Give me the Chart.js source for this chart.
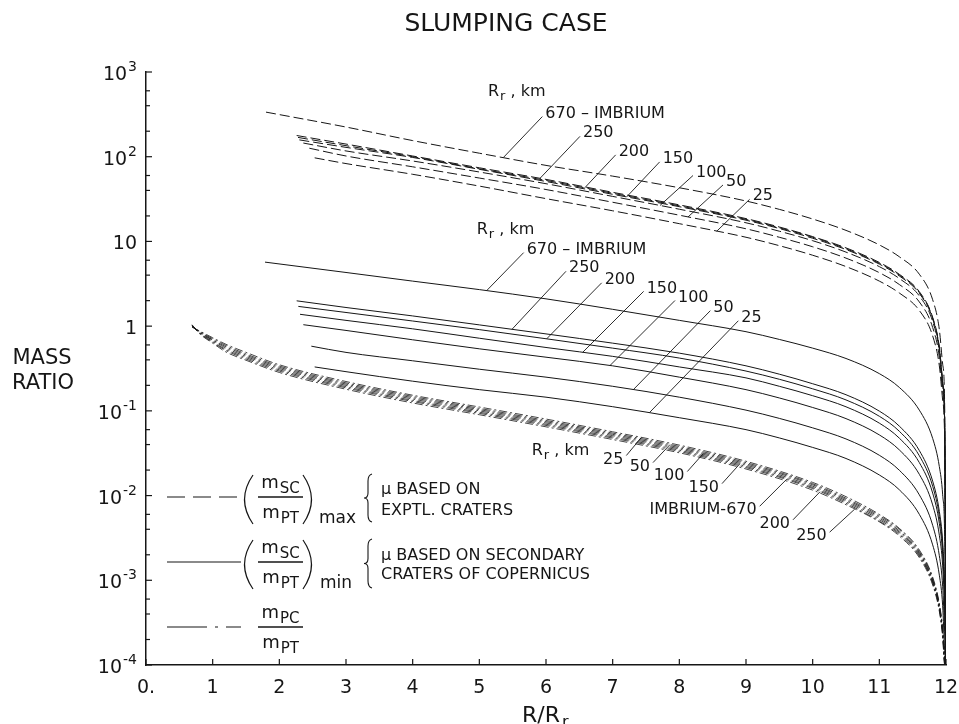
<!DOCTYPE html>
<html>
<head>
<meta charset="utf-8">
<title>Slumping case</title>
<script src="https://cdn.jsdelivr.net/npm/chart.js@4.4.1/dist/chart.umd.min.js"></script>
<style>
  html, body { margin: 0; padding: 0; background: #fff; }
  #wrap { width: 959px; height: 724px; }
</style>
</head>
<body>
<div id="wrap"><canvas id="myChart" width="959" height="724"></canvas></div>
<script>
// crater radius R_r (km) of each curve, same order in every family
const craterRadii = ['25', '50', '100', '150', '200', '250', '670'];

// R/R_r grid used by the two secondary-crater families
const gridX = [3, 4, 5, 6, 7, 8, 9, 9.5, 10, 10.5, 11, 11.3, 11.6, 11.8, 11.9, 11.95, 11.98, 12];

// (m_SC/m_PT)max  (dashed)
const maxStartX = [2.53, 2.45, 2.36, 2.30, 2.28, 2.26, 1.8];
const maxStartY = [97, 126, 145, 158, 169, 178, 336];
const max25  = [83, 62, 45, 32, 23, 16.2, 11.2, 8.91, 6.87, 5.05, 3.40, 2.46, 1.53, 0.766, 0.34, 0.133, 0.0432, 0.0001];
const max50  = [102, 76, 56, 41, 29, 20.4, 14.1, 11.2, 8.65, 6.35, 4.28, 3.10, 1.93, 0.964, 0.429, 0.168, 0.0543, 0.0001];
const max100 = [117, 89, 66, 48, 34, 24, 16.6, 13.2, 10.2, 7.48, 5.04, 3.65, 2.27, 1.135, 0.505, 0.197, 0.064, 0.0001];
const max150 = [129, 98, 71, 51, 36, 25.7, 17.8, 14.2, 10.9, 8.02, 5.40, 3.91, 2.43, 1.22, 0.541, 0.211, 0.0686, 0.0001];
const max200 = [135, 100, 72, 52.5, 37, 26.3, 18.2, 14.5, 11.2, 8.20, 5.52, 4.0, 2.49, 1.245, 0.553, 0.216, 0.070, 0.0001];
const max250 = [141, 102, 74, 54, 38, 27, 18.6, 14.8, 11.4, 8.39, 5.65, 4.09, 2.55, 1.27, 0.565, 0.221, 0.0716, 0.0001];
const max670 = [224, 155, 110, 79, 59, 43, 30, 23.9, 18.4, 13.5, 9.1, 6.59, 4.1, 2.05, 0.912, 0.356, 0.116, 0.0001];

// (m_SC/m_PT)min  (solid)
const minStartX = [2.53, 2.48, 2.36, 2.31, 2.285, 2.26, 1.785];
const minStartY = [0.33, 0.58, 1.04, 1.38, 1.71, 1.99, 5.7];
const min25  = [0.29, 0.224, 0.178, 0.145, 0.112, 0.083, 0.06, 0.0479, 0.037, 0.0274, 0.0175, 0.0117, 0.006, 0.00262, 0.00115, 0.0005, 0.000148, 0.0001];
const min50  = [0.49, 0.39, 0.31, 0.25, 0.195, 0.145, 0.102, 0.0815, 0.063, 0.0466, 0.0299, 0.0199, 0.0102, 0.00446, 0.00195, 0.00085, 0.00025, 0.0001];
const min100 = [0.89, 0.69, 0.54, 0.43, 0.34, 0.25, 0.178, 0.142, 0.1096, 0.081, 0.052, 0.0346, 0.0178, 0.00776, 0.0034, 0.00148, 0.00044, 0.0001];
const min150 = [1.17, 0.93, 0.72, 0.56, 0.44, 0.33, 0.245, 0.195, 0.151, 0.1117, 0.0716, 0.0476, 0.0245, 0.0107, 0.00469, 0.00204, 0.0006, 0.0001];
const min200 = [1.45, 1.15, 0.91, 0.71, 0.55, 0.42, 0.295, 0.236, 0.182, 0.1346, 0.0863, 0.0574, 0.0295, 0.0129, 0.00565, 0.00246, 0.00073, 0.0001];
const min250 = [1.66, 1.32, 1.035, 0.81, 0.63, 0.48, 0.34, 0.271, 0.209, 0.155, 0.0993, 0.066, 0.034, 0.0148, 0.0065, 0.00283, 0.00084, 0.0001];
const min670 = [4.3, 3.4, 2.7, 2.1, 1.58, 1.17, 0.86, 0.697, 0.55, 0.415, 0.275, 0.189, 0.102, 0.0473, 0.022, 0.0102, 0.0033, 0.0001];

// m_PC/m_PT  (dash-dot)
const pcX = [0.69, 0.8, 1.0, 1.2, 1.5, 2, 3, 4, 5, 6, 7, 8, 9, 10, 10.5, 11, 11.3, 11.6, 11.8, 11.9, 11.95, 11.98, 12];
const pc25  = [0.97, 0.88, 0.73, 0.61, 0.49, 0.35, 0.222, 0.153, 0.111, 0.080, 0.0566, 0.0394, 0.0254, 0.0143, 0.0097, 0.006, 0.0041, 0.00228, 0.00109, 0.00053, 0.000266, 0.00012, 0.0001];
const pc50  = [0.99, 0.87, 0.71, 0.59, 0.47, 0.338, 0.214, 0.148, 0.107, 0.077, 0.0546, 0.038, 0.0245, 0.0138, 0.0093, 0.0058, 0.004, 0.00219, 0.00105, 0.00051, 0.000257, 0.000118, 0.0001];
const pc100 = [1.0, 0.86, 0.69, 0.57, 0.455, 0.327, 0.207, 0.143, 0.1035, 0.0745, 0.0528, 0.0367, 0.0237, 0.0134, 0.009, 0.0056, 0.00383, 0.00212, 0.00101, 0.0005, 0.000248, 0.000114, 0.0001];
const pc150 = [1.0, 0.85, 0.68, 0.55, 0.44, 0.316, 0.20, 0.138, 0.100, 0.072, 0.051, 0.0355, 0.0229, 0.0129, 0.0087, 0.0054, 0.0037, 0.00205, 0.00098, 0.00048, 0.00024, 0.00011, 0.0001];
const pc200 = [1.03, 0.83, 0.645, 0.515, 0.41, 0.295, 0.187, 0.129, 0.0935, 0.0673, 0.0477, 0.0332, 0.0214, 0.0121, 0.0081, 0.005, 0.00346, 0.00192, 0.00092, 0.00045, 0.000224, 0.000103, 0.0001];
const pc250 = [1.04, 0.82, 0.63, 0.495, 0.396, 0.284, 0.18, 0.124, 0.09, 0.0648, 0.0459, 0.032, 0.0206, 0.0116, 0.0078, 0.0049, 0.00333, 0.00185, 0.00088, 0.00043, 0.000216, 0.000101, 0.0001];
const pc670 = [1.02, 0.84, 0.66, 0.53, 0.425, 0.305, 0.193, 0.133, 0.0965, 0.0695, 0.0492, 0.0343, 0.0221, 0.01245, 0.0084, 0.0052, 0.00357, 0.00198, 0.00095, 0.00046, 0.000232, 0.000106, 0.0001];

// axis ticks
const xTickValues = [0, 1, 2, 3, 4, 5, 6, 7, 8, 9, 10, 11, 12];
const xTickLabels = ['0.', '1', '2', '3', '4', '5', '6', '7', '8', '9', '10', '11', '12'];
const yTickValues = [1e-4, 1e-3, 1e-2, 1e-1, 1, 10, 100, 1000];
const yTickLabels = [['10', '-4'], ['10', '-3'], ['10', '-2'], ['10', '-1'], ['1', ''], ['10', ''], ['10', '2'], ['10', '3']];
const yMinorSteps = [2, 4, 6];

const maxSeries = [max25, max50, max100, max150, max200, max250, max670];
const minSeries = [min25, min50, min100, min150, min200, min250, min670];
const pcSeries  = [pc25, pc50, pc100, pc150, pc200, pc250, pc670];

const ink = '#161616';
const fam = '"DejaVu Sans", sans-serif';

function pointsFrom(xs, ys, x0, y0) {
  const pts = [];
  if (x0 !== undefined) pts.push({ x: x0, y: y0 });
  xs.forEach((x, i) => pts.push({ x: x, y: ys[i] }));
  return pts;
}

const datasets = [];
maxSeries.forEach((ys, i) => datasets.push({
  label: 'max ' + craterRadii[i],
  data: pointsFrom(gridX, ys, maxStartX[i], maxStartY[i]),
  borderDash: [10, 4],
  borderWidth: 1
}));
minSeries.forEach((ys, i) => datasets.push({
  label: 'min ' + craterRadii[i],
  data: pointsFrom(gridX, ys, minStartX[i], minStartY[i]),
  borderDash: [],
  borderWidth: 1
}));
pcSeries.forEach((ys, i) => datasets.push({
  label: 'pc ' + craterRadii[i],
  data: pointsFrom(pcX, ys),
  borderDash: [8, 3, 2, 3],
  borderWidth: 0.8
}));
datasets.forEach(d => {
  d.borderColor = ink;
  d.pointRadius = 0;
  d.fill = false;
  d.cubicInterpolationMode = 'monotone';
});

// leader-line labels: curve index, where the leader touches it, leader offset in px
const maxNotes = [
  { i: 6, x: 5.36, dx: 39, dy: -41, text: '670 – IMBRIUM' },
  { i: 5, x: 5.91, dx: 40, dy: -42 },
  { i: 4, x: 6.58, dx: 31, dy: -33 },
  { i: 3, x: 7.21, dx: 33, dy: -35 },
  { i: 2, x: 7.71, dx: 33, dy: -30 },
  { i: 1, x: 8.13, dx: 35, dy: -32 },
  { i: 0, x: 8.56, dx: 33, dy: -32 }
];
const minNotes = [
  { i: 6, x: 5.11, dx: 37, dy: -38, text: '670 – IMBRIUM' },
  { i: 5, x: 5.49, dx: 54, dy: -58 },
  { i: 4, x: 6.01, dx: 55, dy: -56 },
  { i: 3, x: 6.55, dx: 61, dy: -61 },
  { i: 2, x: 6.96, dx: 65, dy: -65 },
  { i: 1, x: 7.31, dx: 77, dy: -79 },
  { i: 0, x: 7.55, dx: 89, dy: -92 }
];
const pcNotes = [
  { i: 0, x: 7.43, dx: -15, dy: 18 },
  { i: 1, x: 7.86, dx: -17, dy: 18 },
  { i: 2, x: 8.36, dx: -16, dy: 18 },
  { i: 3, x: 8.91, dx: -18, dy: 20 },
  { i: 6, x: 9.61, dx: -27, dy: 27, text: 'IMBRIUM-670' },
  { i: 4, x: 10.11, dx: -27, dy: 28 },
  { i: 5, x: 10.63, dx: -25, dy: 23 }
];

function yOnCurve(chart, idx, xv) {
  const pts = chart.getDatasetMeta(idx).data;
  const px = chart.scales.x.getPixelForValue(xv);
  for (let k = 1; k < pts.length; k++) {
    if (pts[k].x >= px) {
      const a = pts[k - 1], b = pts[k];
      const t = (px - a.x) / (b.x - a.x);
      return { x: px, y: a.y + t * (b.y - a.y) };
    }
  }
  return { x: px, y: pts[pts.length - 1].y };
}

function line(ctx, x1, y1, x2, y2) {
  ctx.beginPath();
  ctx.moveTo(x1, y1);
  ctx.lineTo(x2, y2);
  ctx.stroke();
}

function drawRr(ctx, x, y, tail) {
  ctx.textAlign = 'left';
  ctx.textBaseline = 'alphabetic';
  ctx.font = '16px ' + fam;
  ctx.fillText('R', x, y);
  let w = ctx.measureText('R').width;
  ctx.font = '13px ' + fam;
  ctx.fillText('r', x + w + 1, y + 4);
  w += ctx.measureText('r').width + 1;
  ctx.font = '16px ' + fam;
  ctx.fillText(tail, x + w, y);
}

function drawMSub(ctx, cx, baseM, baseS, sub) {
  ctx.font = '18px ' + fam;
  const wm = ctx.measureText('m').width;
  ctx.font = '15px ' + fam;
  const ws = ctx.measureText(sub).width;
  const x0 = cx - (wm + ws + 1) / 2;
  ctx.textAlign = 'left';
  ctx.font = '18px ' + fam;
  ctx.fillText('m', x0, baseM);
  ctx.font = '15px ' + fam;
  ctx.fillText(sub, x0 + wm + 1, baseS);
}

function drawFraction(ctx, bar, numSub, denSub) {
  ctx.lineWidth = 1.3;
  line(ctx, 258, bar, 303, bar);
  drawMSub(ctx, 280.5, bar - 9, bar - 4, numSub);
  drawMSub(ctx, 280.5, bar + 21, bar + 26, denSub);
}

function drawParens(ctx, bar) {
  const top = bar - 22, bot = bar + 27, mid = (top + bot) / 2;
  ctx.lineWidth = 1.2;
  ctx.beginPath();
  ctx.moveTo(253, top);
  ctx.quadraticCurveTo(236, mid, 253, bot);
  ctx.stroke();
  ctx.beginPath();
  ctx.moveTo(303, top);
  ctx.quadraticCurveTo(320, mid, 303, bot);
  ctx.stroke();
}

function drawBrace(ctx, x, top, bot) {
  const mid = (top + bot) / 2;
  ctx.lineWidth = 1.1;
  ctx.beginPath();
  ctx.moveTo(x + 4, top);
  ctx.quadraticCurveTo(x, top + 1, x, top + 7);
  ctx.lineTo(x, mid - 5);
  ctx.quadraticCurveTo(x, mid, x - 4, mid);
  ctx.quadraticCurveTo(x, mid, x, mid + 5);
  ctx.lineTo(x, bot - 7);
  ctx.quadraticCurveTo(x, bot - 1, x + 4, bot);
  ctx.stroke();
}

function drawNotes(ctx, chart, notes, offset, below) {
  ctx.lineWidth = 0.9;
  ctx.font = '16px ' + fam;
  ctx.textBaseline = 'middle';
  notes.forEach(n => {
    const p = yOnCurve(chart, offset + n.i, n.x);
    const ex = p.x + n.dx, ey = p.y + n.dy;
    line(ctx, p.x, p.y, ex, ey);
    const txt = n.text || craterRadii[n.i];
    if (below) {
      ctx.textAlign = 'right';
      ctx.fillText(txt, ex - 3, ey + 4);
    } else {
      ctx.textAlign = 'left';
      ctx.fillText(txt, ex + 3, ey - 3);
    }
  });
}

const paperPlugin = {
  id: 'paper',
  beforeDraw(chart) {
    const ctx = chart.ctx;
    ctx.save();
    ctx.fillStyle = '#fff';
    ctx.fillRect(0, 0, chart.width, chart.height);
    ctx.restore();
  },
  afterDraw(chart) {
    const ctx = chart.ctx, xs = chart.scales.x, ys = chart.scales.y, area = chart.chartArea;
    ctx.save();
    ctx.fillStyle = ink;
    ctx.strokeStyle = ink;
    ctx.setLineDash([]);

    // inward ticks
    ctx.lineWidth = 1.2;
    xTickValues.forEach(v => {
      const px = xs.getPixelForValue(v);
      line(ctx, px, area.bottom, px, area.bottom - 6);
    });
    yTickValues.forEach((v, k) => {
      const py = ys.getPixelForValue(v);
      line(ctx, area.left, py, area.left + 6, py);
      if (k < yTickValues.length - 1) {
        yMinorSteps.forEach(m => {
          const pm = ys.getPixelForValue(v * m);
          line(ctx, area.left, pm, area.left + 4, pm);
        });
      }
    });

    // tick labels
    ctx.textBaseline = 'middle';
    ctx.textAlign = 'center';
    ctx.font = '19px ' + fam;
    xTickValues.forEach((v, k) => {
      ctx.fillText(xTickLabels[k], xs.getPixelForValue(v), area.bottom + 23);
    });
    ctx.textBaseline = 'alphabetic';
    ctx.textAlign = 'left';
    yTickValues.forEach((v, k) => {
      const py = ys.getPixelForValue(v);
      const main = yTickLabels[k][0], sup = yTickLabels[k][1];
      ctx.font = '14px ' + fam;
      const ws = sup ? ctx.measureText(sup).width + 1 : 0;
      ctx.font = '19px ' + fam;
      const wm = ctx.measureText(main).width;
      const right = area.left - 9;
      ctx.fillText(main, right - ws - wm, py + 8);
      if (sup) {
        ctx.font = '14px ' + fam;
        ctx.fillText(sup, right - ws + 1, py - 1);
      }
    });

    // titles
    ctx.textAlign = 'center';
    ctx.font = '25px ' + fam;
    ctx.fillText('SLUMPING CASE', 506, 31);
    ctx.font = '21px ' + fam;
    ctx.fillText('MASS', 42, 364);
    ctx.fillText('RATIO', 43, 389);
    ctx.textAlign = 'left';
    ctx.font = '22px ' + fam;
    const xTitleX = 522;
    ctx.fillText('R/R', xTitleX, 722);
    const wR = ctx.measureText('R/R').width;
    ctx.font = '16px ' + fam;
    ctx.fillText('r', xTitleX + wR + 2, 727);

    // leader labels
    drawNotes(ctx, chart, maxNotes, 0, false);
    drawNotes(ctx, chart, minNotes, 7, false);
    drawNotes(ctx, chart, pcNotes, 14, true);
    drawRr(ctx, xs.getPixelForValue(5.13), ys.getPixelForValue(614) + 6, ' , km');
    drawRr(ctx, xs.getPixelForValue(4.96), ys.getPixelForValue(14.6) + 6, ' , km');
    drawRr(ctx, xs.getPixelForValue(5.785), ys.getPixelForValue(0.0357) + 6, ' , km');

    // key
    const rows = [497, 562, 627];
    ctx.lineWidth = 1.1;
    ctx.setLineDash([18, 8]);
    line(ctx, 167, rows[0], 241, rows[0]);
    ctx.setLineDash([]);
    line(ctx, 167, rows[1], 241, rows[1]);
    ctx.setLineDash([40, 8, 3, 8]);
    line(ctx, 167, rows[2], 241, rows[2]);
    ctx.setLineDash([]);

    ctx.textBaseline = 'alphabetic';
    drawParens(ctx, rows[0]);
    drawFraction(ctx, rows[0], 'SC', 'PT');
    ctx.font = '17px ' + fam;
    ctx.textAlign = 'left';
    ctx.fillText('max', 319, rows[0] + 26);
    drawBrace(ctx, 368, rows[0] - 23, rows[0] + 25);
    ctx.font = '16px ' + fam;
    ctx.fillText('μ BASED ON', 381, rows[0] - 3);
    ctx.fillText('EXPTL. CRATERS', 381, rows[0] + 18);

    drawParens(ctx, rows[1]);
    drawFraction(ctx, rows[1], 'SC', 'PT');
    ctx.font = '17px ' + fam;
    ctx.textAlign = 'left';
    ctx.fillText('min', 320, rows[1] + 26);
    drawBrace(ctx, 368, rows[1] - 23, rows[1] + 26);
    ctx.font = '16px ' + fam;
    ctx.fillText('μ BASED ON SECONDARY', 381, rows[1] - 2);
    ctx.fillText('CRATERS OF COPERNICUS', 381, rows[1] + 17);

    drawFraction(ctx, rows[2], 'PC', 'PT');
    ctx.restore();
  }
};

const canvas = document.getElementById('myChart');
new Chart(canvas.getContext('2d'), {
  type: 'scatter',
  data: { datasets: datasets },
  options: {
    responsive: false,
    animation: false,
    devicePixelRatio: 1,
    showLine: true,
    layout: { padding: { top: 72, right: 13, left: 0, bottom: 0 } },
    plugins: {
      legend: { display: false },
      tooltip: { enabled: false }
    },
    scales: {
      x: {
        type: 'linear',
        min: 0,
        max: 12,
        grid: { display: false, drawTicks: false },
        border: { display: true, color: ink, width: 1.5 },
        ticks: { display: false, stepSize: 1 },
        afterFit: function(scale) { scale.height = 59; }
      },
      y: {
        type: 'logarithmic',
        min: 1e-4,
        max: 1e3,
        grid: { display: false, drawTicks: false },
        border: { display: true, color: ink, width: 1.5 },
        ticks: { display: false },
        afterFit: function(scale) { scale.width = 146; }
      }
    }
  },
  plugins: [paperPlugin]
});
</script>
</body>
</html>
